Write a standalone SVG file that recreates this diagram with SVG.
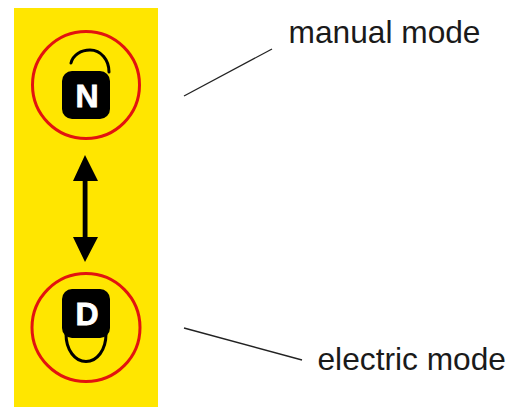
<svg xmlns="http://www.w3.org/2000/svg" width="517" height="407" viewBox="0 0 517 407">
<style>
.ring{fill:none;stroke:#e2130f;stroke-width:3}
.shackle{fill:none;stroke:#000;stroke-width:3;stroke-linecap:round}
.body{fill:#000}
.letter{font-family:"Liberation Sans",Arial,sans-serif;font-weight:700;font-size:32px;fill:#fff;stroke:#fff;stroke-width:.8;text-anchor:middle}
.label{font-family:"Liberation Sans",Arial,sans-serif;font-size:31.700px;fill:#1a1a1a}
.lead{stroke:#222;stroke-width:1.3;fill:none}
</style>
<rect x="14" y="8" width="144" height="399" fill="#ffe600"/>
<g id="node-manual">
<circle class="ring" cx="86" cy="85" r="53.5"/>
<path class="shackle" d="M71 63C73 55 81 50 90 50C101 50 109 60 109 72"/>
<rect class="body" x="62" y="71" width="48" height="48" rx="10"/>
<text class="letter" x="87" y="107">N</text>
</g>
<g id="node-electric">
<circle class="ring" cx="86" cy="327.500" r="54"/>
<path class="shackle" d="M66 334C66 350 75 361.500 86 361.500C97 361.500 106 350 106 334"/>
<rect class="body" x="62" y="289" width="48" height="49" rx="10"/>
<text class="letter" x="87" y="325">D</text>
</g>
<g id="connectors">
<path d="M85 155L98 181H87.500V237H98L85 262L73 237H82.700V181H73Z" fill="#000"/>
<line class="lead" x1="184" y1="96" x2="272" y2="49"/>
<line class="lead" x1="184" y1="328" x2="302" y2="360"/>
</g>
<text class="label" x="288.500" y="43">manual mode</text>
<text class="label" x="317.500" y="370">electric mode</text>
</svg>
